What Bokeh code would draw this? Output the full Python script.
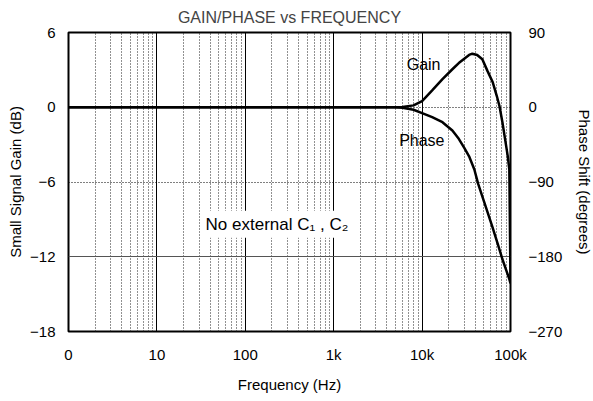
from bokeh.plotting import figure
from bokeh.models import (Range1d, LinearAxis, FixedTicker, Grid, Label)
from bokeh.embed import file_html
from bokeh.resources import INLINE

# ---- data ----
gain_freq = [1, 10, 100, 1000, 5000, 6000, 8000, 10000, 13000, 17000, 22000,
             26000, 30000, 34000, 37000, 42000, 48000, 55000, 63000, 70000,
             75000, 81000, 87000, 93000, 97000, 100000]
gain_db = [0, 0, 0, 0, 0, 0.02, 0.15, 0.5, 1.35, 2.25, 3.05,
           3.55, 3.9, 4.2, 4.3, 4.2, 3.85, 2.9, 2.0, 0.9,
           0.1, -1.2, -2.6, -3.9, -5.0, -14.0]

phase_freq = [1, 10, 100, 1000, 5000, 6000, 8000, 10000, 13000, 17000, 22000,
              26000, 30000, 34000, 39000, 43000, 50000, 62000, 72000, 81000,
              90000, 97000, 100000]
phase_deg = [0, 0, 0, 0, 0, -0.5, -3, -7, -12, -18, -28,
             -38, -49, -59, -75, -92, -113, -143, -165, -183,
             -197, -207, -212]

x_ticks = [1, 10, 100, 1000, 10000, 100000]
x_tick_labels = ["0", "10", "100", "1k", "10k", "100k"]
x_minor = [m * d for d in [1, 10, 100, 1000, 10000] for m in range(2, 10)]
gain_ticks = [-18, -12, -6, 0, 6]
gain_tick_labels = ["\u221218", "\u221212", "\u22126", "0", "6"]
phase_ticks = [-270, -180, -90, 0, 90]
phase_tick_labels = ["\u2212270", "\u2212180", "\u221290", "0", "90"]

FONT = "Liberation Sans"

p = figure(frame_width=442, frame_height=299, x_axis_type="log",
           x_range=Range1d(1, 100000), y_range=Range1d(-18, 6),
           output_backend="svg", toolbar_location=None,
           min_border_left=68, min_border_right=10,
           min_border_top=32, min_border_bottom=10,
           title="GAIN/PHASE vs FREQUENCY")
p.extra_y_ranges = {"phase": Range1d(-270, 90)}

p.title.align = "center"
p.title.text_font = FONT
p.title.text_font_size = "16px"
p.title.text_font_style = "normal"
p.title.standoff = 13

p.outline_line_color = "black"
p.outline_line_width = 2
p.background_fill_color = "white"
p.border_fill_color = "white"

# x axis
p.xaxis.ticker = FixedTicker(ticks=x_ticks, minor_ticks=x_minor)
p.xaxis.major_label_overrides = dict(zip(x_ticks, x_tick_labels))
p.xaxis.axis_label = "Frequency (Hz)"
p.xaxis.major_label_standoff = 14
p.xaxis.axis_label_standoff = 10

# left axis
p.yaxis.ticker = FixedTicker(ticks=gain_ticks)
p.yaxis.major_label_overrides = dict(zip(gain_ticks, gain_tick_labels))
p.yaxis.axis_label = "Small Signal Gain (dB)"
p.yaxis.major_label_standoff = 13
p.yaxis.axis_label_standoff = 3

# right axis
raxis = LinearAxis(y_range_name="phase", axis_label="Phase Shift (degrees)",
                   ticker=FixedTicker(ticks=phase_ticks))
raxis.major_label_overrides = dict(zip(phase_ticks, phase_tick_labels))
raxis.major_label_standoff = 18
raxis.axis_label_standoff = 11
p.add_layout(raxis, "right")

for ax in [p.xaxis[0], p.yaxis[0], raxis]:
    ax.axis_line_color = None
    ax.major_tick_line_color = None
    ax.minor_tick_line_color = None
    ax.major_tick_out = 0
    ax.minor_tick_out = 0
    ax.major_tick_in = 0
    ax.minor_tick_in = 0
    ax.major_label_text_font = FONT
    ax.major_label_text_font_size = "15px"
    ax.major_label_text_color = "black"
    ax.axis_label_text_font = FONT
    ax.axis_label_text_font_size = "15px"
    ax.axis_label_text_font_style = "normal"
    ax.axis_label_text_color = "black"

# grids
p.xgrid.ticker = FixedTicker(ticks=x_ticks, minor_ticks=x_minor)
p.xgrid.grid_line_color = "black"
p.xgrid.grid_line_width = 1
p.xgrid.minor_grid_line_color = "#222222"
p.xgrid.minor_grid_line_dash = "1 2"
p.xgrid.minor_grid_line_width = 1

p.ygrid.ticker = FixedTicker(ticks=[-6, 0])
p.ygrid.grid_line_color = "black"
p.ygrid.grid_line_dash = "1 2"
p.ygrid.grid_line_width = 1
p.add_layout(Grid(dimension=1, ticker=FixedTicker(ticks=[-12]),
                  grid_line_color="#555555", grid_line_width=1))

# curves
p.line(phase_freq, phase_deg, y_range_name="phase", line_color="black",
       line_width=2.5)
p.line(gain_freq, gain_db, line_color="black", line_width=2.5)

# annotations
p.add_layout(Label(x=6700, y=3.4, text="Gain", text_font=FONT,
                   text_font_size="16px", text_baseline="middle",
                   text_color="black"))
p.add_layout(Label(x=5500, y=-2.7, text="Phase", text_font=FONT,
                   text_font_size="16px", text_baseline="middle",
                   text_color="black"))
p.add_layout(Label(x=32, y=-9.4, text="No external C\u2081 , C\u2082",
                   text_font=FONT, text_font_size="17px",
                   text_baseline="middle", text_color="black",
                   background_fill_color="white", padding=4))

open("out.html", "w").write(file_html(p, INLINE))
